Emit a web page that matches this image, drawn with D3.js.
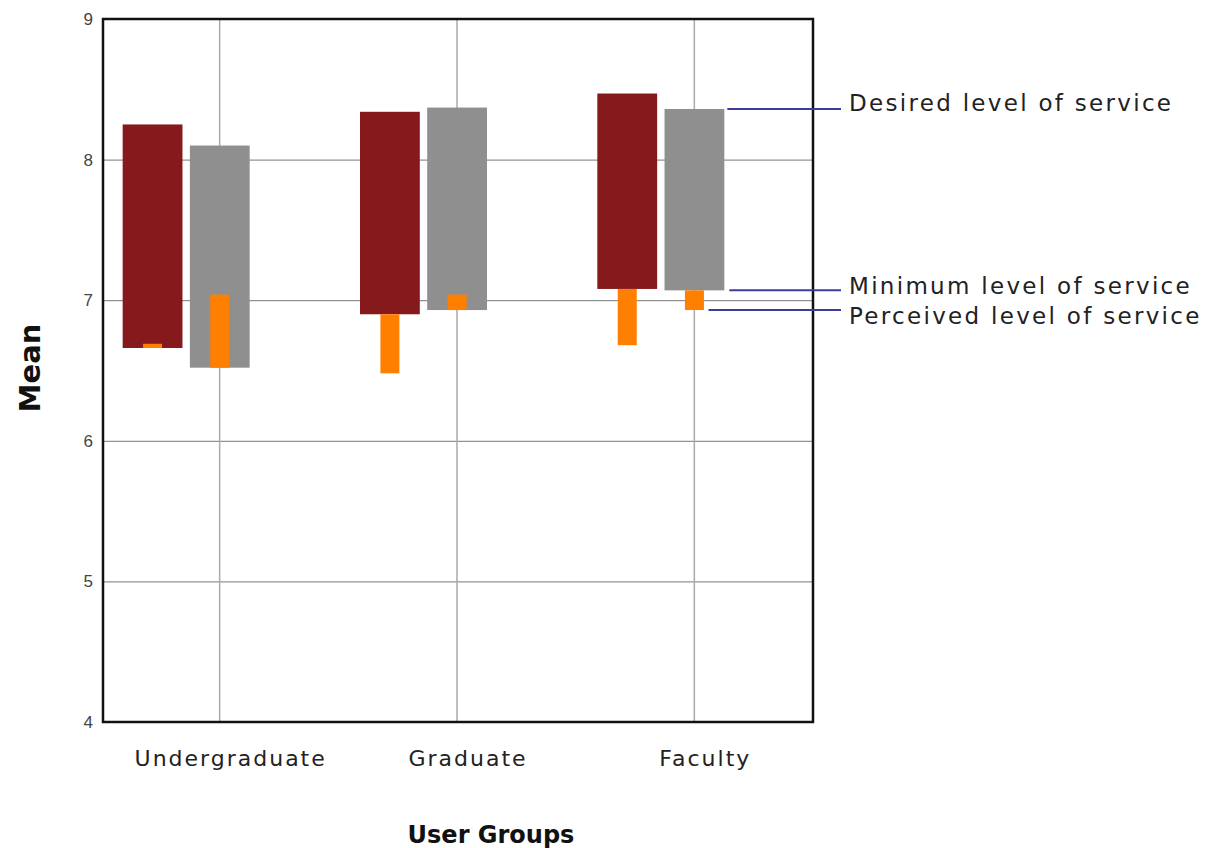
<!DOCTYPE html>
<html>
<head>
<meta charset="utf-8">
<script src="https://cdn.jsdelivr.net/npm/d3@7"></script>
<style>
  body { margin: 0; background: #fff; }
  svg { display: block; }
</style>
</head>
<body>
<div id="chart"></div>
<script>
// range bars: desired (top) to minimum (bottom), orange stub from minimum to perceived
const groups = ["Undergraduate", "Graduate", "Faculty"];
const seriesNames = ["Series 1", "Series 2"];
const desired   = [[8.25, 8.10], [8.34, 8.37], [8.47, 8.36]];
const minimum   = [[6.66, 6.52], [6.90, 6.93], [7.08, 7.07]];
const perceived = [[6.69, 7.04], [6.48, 7.04], [6.68, 6.93]];
const yTicks = [4, 5, 6, 7, 8, 9];
const levelLabels = ["Desired level of service", "Minimum level of service", "Perceived level of service"];

const W = 1229, H = 848;
const margin = { top: 19, right: 416, bottom: 126, left: 103 },
      width = W - margin.left - margin.right,
      height = H - margin.top - margin.bottom;

const svg = d3.select("#chart")
  .append("svg")
  .attr("width", W)
  .attr("height", H)
  .append("g")
  .attr("transform", `translate(${margin.left},${margin.top})`);

const x = d3.scaleBand().domain(groups).range([-2, width]).padding(0);
const x1 = d3.scaleBand().domain(seriesNames).range([-97, 30]).paddingInner(0.11);
const y = d3.scaleLinear().domain([4, 9]).range([height, 0]);
const color = d3.scaleOrdinal().domain(seriesNames).range(["#86191b", "#8f8f8f"]);

const rows = [];
groups.forEach((g, i) => {
  seriesNames.forEach((s, j) => {
    rows.push({ group: g, series: s, desired: desired[i][j], minimum: minimum[i][j], perceived: perceived[i][j] });
  });
});

// horizontal grid + left ticks
svg.append("g")
  .call(d3.axisLeft(y).tickValues(yTicks).tickSize(-width).tickPadding(10).tickFormat(d3.format("d")))
  .call(g => g.select(".domain").remove())
  .call(g => g.selectAll(".tick line").attr("stroke", "#777").attr("stroke-width", 1))
  .call(g => g.selectAll(".tick text")
    .attr("font-family", "Liberation Sans, Arial, sans-serif")
    .style("font-size", "17px")
    .attr("fill", "#444"));

// vertical grid at category centres
svg.append("g")
  .selectAll("line")
  .data(groups)
  .join("line")
  .attr("x1", d => x(d) + x.bandwidth() / 2)
  .attr("x2", d => x(d) + x.bandwidth() / 2)
  .attr("y1", 0)
  .attr("y2", height)
  .attr("stroke", "#aaa")
  .attr("stroke-width", 1.5);

const cx = d => x(d.group) + x.bandwidth() / 2;

// range bars
svg.append("g")
  .selectAll("rect")
  .data(rows)
  .join("rect")
  .attr("x", d => cx(d) + x1(d.series))
  .attr("y", d => y(d.desired))
  .attr("width", x1.bandwidth())
  .attr("height", d => y(d.minimum) - y(d.desired))
  .attr("fill", d => color(d.series));

// perceived stubs
const stubW = 19;
svg.append("g")
  .selectAll("rect")
  .data(rows)
  .join("rect")
  .attr("x", d => cx(d) + x1(d.series) + x1.bandwidth() / 2 - stubW / 2)
  .attr("y", d => y(Math.max(d.minimum, d.perceived)))
  .attr("width", stubW)
  .attr("height", d => Math.max(4, Math.abs(y(d.perceived) - y(d.minimum))))
  .attr("fill", "#ff8000");

// frame
svg.append("rect")
  .attr("width", width)
  .attr("height", height)
  .attr("fill", "none")
  .attr("stroke", "#111")
  .attr("stroke-width", 2.5);

// category labels
svg.append("g")
  .selectAll("text")
  .data(groups)
  .join("text")
  .attr("x", d => x(d) + x.bandwidth() / 2 + 11)
  .attr("y", height + 44)
  .attr("text-anchor", "middle")
  .attr("font-family", "DejaVu Sans, sans-serif")
  .attr("font-size", 22)
  .attr("letter-spacing", 2)
  .attr("fill", "#222")
  .text(d => d);

// annotation lines tied to the last bar
const last = rows[rows.length - 1];
const lastX = cx(last) + x1(last.series);
const notes = [
  { label: levelLabels[0], v: last.desired, x0: lastX + x1.bandwidth() + 3, ty: -6 },
  { label: levelLabels[1], v: last.minimum, x0: lastX + x1.bandwidth() + 5, ty: -4 },
  { label: levelLabels[2], v: last.perceived, x0: lastX + stubW + 25, ty: 6 }
];
const noteEnd = 738;
const ann = svg.append("g");
notes.forEach(n => {
  ann.append("line")
    .attr("x1", n.x0)
    .attr("x2", noteEnd)
    .attr("y1", y(n.v))
    .attr("y2", y(n.v))
    .attr("stroke", "#3b3b9c")
    .attr("stroke-width", 2);
  ann.append("text")
    .attr("x", noteEnd + 8)
    .attr("y", y(n.v) + n.ty)
    .attr("dy", "0.35em")
    .attr("font-family", "DejaVu Sans, sans-serif")
    .attr("font-size", 23)
    .attr("letter-spacing", 2.3)
    .attr("fill", "#222")
    .text(n.label);
});

// axis titles
svg.append("text")
  .attr("x", 388)
  .attr("y", height + 121)
  .attr("text-anchor", "middle")
  .attr("font-family", "DejaVu Sans, sans-serif")
  .attr("font-weight", "bold")
  .attr("font-size", 24)
  .attr("fill", "#111")
  .text("User Groups");

svg.append("text")
  .attr("transform", "rotate(-90)")
  .attr("x", -349)
  .attr("y", -63)
  .attr("text-anchor", "middle")
  .attr("font-family", "DejaVu Sans, sans-serif")
  .attr("font-weight", "bold")
  .attr("font-size", 29)
  .attr("fill", "#111")
  .text("Mean");
</script>
</body>
</html>
